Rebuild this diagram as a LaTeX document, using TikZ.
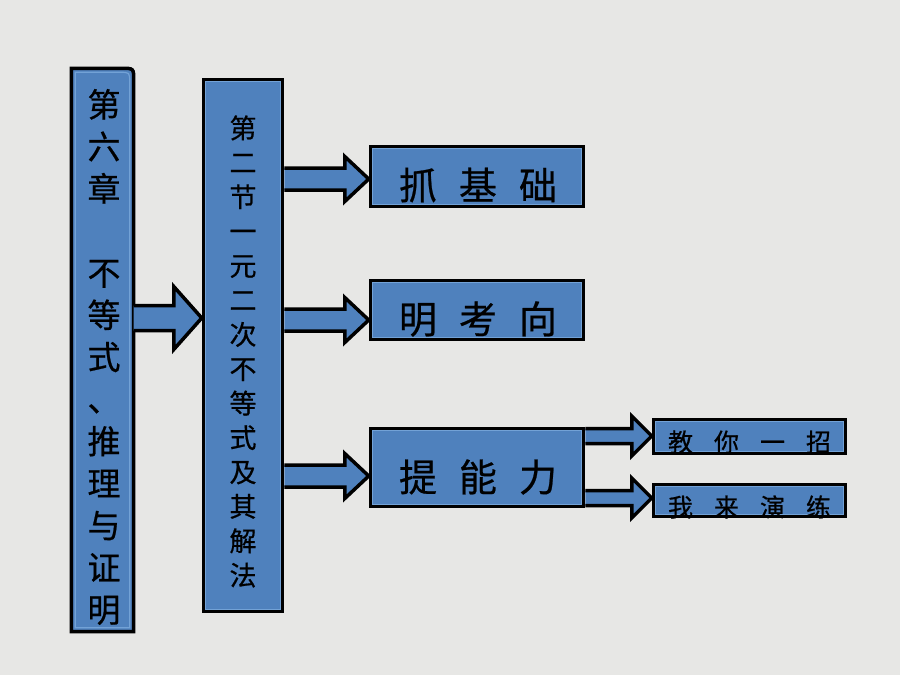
\documentclass[tikz,border=0pt]{standalone}
\usepackage{fontspec}
\newfontfamily\cjk[FakeBold=0.6]{Noto Sans CJK SC}
\usetikzlibrary{calc}
\pgfdeclarelayer{bg}
\pgfdeclarelayer{boxfill}
\pgfsetlayers{bg,boxfill,main}
\definecolor{boxblue}{RGB}{79,129,189}
\definecolor{bevel}{RGB}{115,162,214}
\definecolor{paper}{RGB}{231,231,229}
\newcommand\bevelbox[1]{\draw[bevelsty] ([shift={(4pt,-4pt)}]#1.north west) rectangle ([shift={(-4pt,4pt)}]#1.south east);}
\newcommand\blkarrow[5]{\filldraw[arrowsty] let \p1=(#1), \p2=(#2) in
  (\x1,\y1+#3) -- (\x2-#5,\y1+#3) -- (\x2-#5,\y1+#4) -- (\x2,\y1) -- (\x2-#5,\y1-#4) -- (\x2-#5,\y1-#3) -- (\x1,\y1-#3);}
\begin{document}
\begin{tikzpicture}[x=1pt,y=-1pt,
  boxsty/.style={fill=boxblue,draw=black,line width=3.5pt},
  boxarea/.style={inner sep=0pt,draw=none},
  bevelsty/.style={draw=bevel,line width=1.2pt},
  arrowsty/.style={fill=boxblue,draw=black,line width=3.5pt,line join=miter},
  txt/.style={inner sep=0pt,text=black,align=center},
  bigtxt/.style={txt,font=\cjk\fontsize{38pt}{44pt}\selectfont},
  smalltxt/.style={txt,font=\cjk\fontsize{25pt}{30pt}\selectfont},
]
\begin{pgfonlayer}{bg}
\fill[paper] (0,0) rectangle (900,675);
\end{pgfonlayer}
\useasboundingbox (0,0) rectangle (900,675);

% box areas
\node[boxarea,minimum width=62pt,minimum height=563pt] (b1) at (102.5,350) {};
\node[boxarea,boxsty,minimum width=79pt,minimum height=532pt] (b2) at (243,345.5) {};
\node[boxarea,boxsty,minimum width=213pt,minimum height=60pt] (t1) at (477,176.5) {};
\node[boxarea,boxsty,minimum width=213pt,minimum height=59pt] (t2) at (477,310) {};
\node[boxarea,boxsty,minimum width=213pt,minimum height=78pt] (t3) at (477,467.5) {};
\node[boxarea,boxsty,minimum width=192pt,minimum height=34pt] (s1) at (749.5,436.5) {};
\node[boxarea,boxsty,minimum width=192pt,minimum height=32pt] (s2) at (749.5,500.5) {};

\begin{pgfonlayer}{boxfill}
\draw[boxsty] (b1.south west) -- (b1.north west) -- ([xshift=-12pt]b1.north east)
  .. controls (b1.north east) .. ([yshift=-12pt]b1.north east) -- (b1.south east) -- cycle;
\end{pgfonlayer}
\draw[bevelsty] ([shift={(4pt,4pt)}]b1.south west) -- ([shift={(4pt,-4pt)}]b1.north west) -- ([shift={(-14pt,-4pt)}]b1.north east)
  .. controls ([shift={(-4pt,-4pt)}]b1.north east) .. ([shift={(-4pt,-14pt)}]b1.north east) -- ([shift={(-4pt,4pt)}]b1.south east) -- cycle;
\bevelbox{b2}\bevelbox{t1}\bevelbox{t2}\bevelbox{t3}\bevelbox{s1}\bevelbox{s2}

% arrows
\blkarrow{b1.east |- 0,318}{b2.west |- 0,318}{12.5pt}{31.5pt}{28pt}
\blkarrow{b2.east |- 0,179}{t1.west |- 0,179}{11pt}{22.5pt}{24pt}
\blkarrow{b2.east |- 0,320}{t2.west |- 0,320}{11pt}{22.5pt}{24pt}
\blkarrow{b2.east |- 0,476}{t3.west |- 0,476}{11pt}{22.5pt}{24pt}
\blkarrow{t3.east |- 0,436}{s1.west |- 0,436}{7.5pt}{20pt}{20pt}
\blkarrow{t3.east |- 0,498}{s2.west |- 0,498}{7.5pt}{20pt}{20pt}

% texts
\node[txt,font=\cjk\fontsize{33pt}{42.1pt}\selectfont] (b1t) at ([xshift=1.5pt,yshift=-7pt]b1.center)
  {第\\六\\章\\~\\不\\等\\式\\、\\推\\理\\与\\证\\明};
\node[txt,font=\cjk\fontsize{27pt}{34.4pt}\selectfont] (b2t) at ([yshift=-6pt]b2.center)
  {第\\二\\节\\一\\元\\二\\次\\不\\等\\式\\及\\其\\解\\法};
\node[bigtxt] (t1t) at ([xshift=1pt,yshift=-8.5pt]t1.center) {抓\hspace{22pt}基\hspace{22pt}础};
\node[bigtxt] (t2t) at ([xshift=1pt,yshift=-9pt]t2.center) {明\hspace{22pt}考\hspace{22pt}向};
\node[bigtxt] (t3t) at ([xshift=1pt,yshift=-9.5pt]t3.center) {提\hspace{22pt}能\hspace{22pt}力};
\node[smalltxt] (s1t) at ([yshift=-5.5pt]s1.center) {教\hspace{21pt}你\hspace{21pt}一\hspace{21pt}招};
\node[smalltxt] (s2t) at ([yshift=-6.5pt]s2.center) {我\hspace{21pt}来\hspace{21pt}演\hspace{21pt}练};
\end{tikzpicture}
\end{document}
